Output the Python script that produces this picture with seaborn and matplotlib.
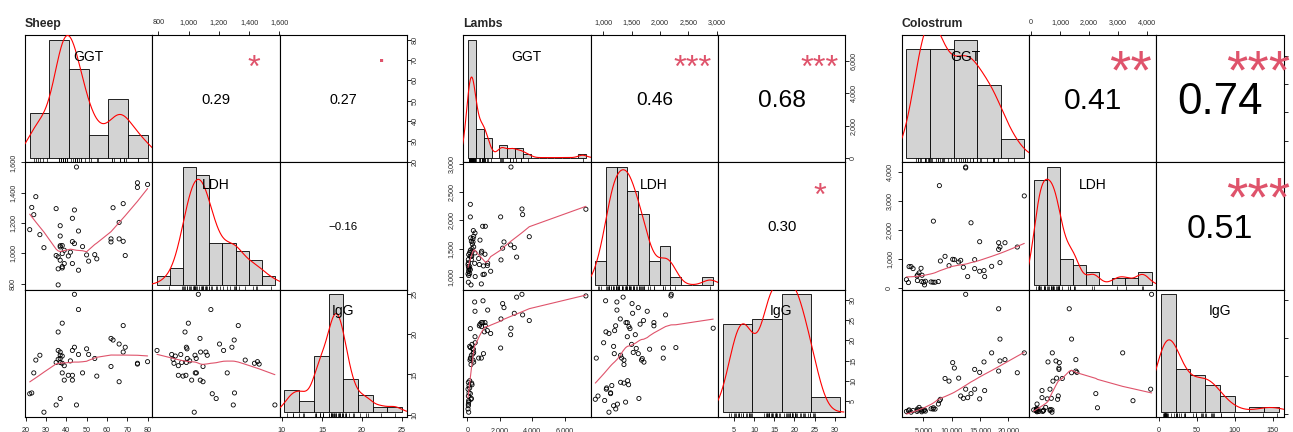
import numpy as np
import pandas as pd
import matplotlib
matplotlib.use("Agg")
import matplotlib.pyplot as plt
import matplotlib.transforms as mtransforms
from matplotlib.font_manager import FontProperties
from matplotlib.textpath import TextPath
from matplotlib.ticker import MultipleLocator, FuncFormatter
import seaborn as sns

variables = ["GGT", "LDH", "IgG"]

sheep_ggt = [45, 75, 75, 80, 25, 23, 24, 22, 27, 29, 35, 44, 43, 37, 46, 37, 43, 44, 38, 37,
             48, 39, 35, 36, 38, 37, 42, 41, 50, 54, 55, 51, 39, 38, 38, 36, 43, 46, 36, 63,
             68, 66, 62, 62, 66, 68, 69, 37]
sheep_ldh = [1570, 1466, 1435, 1455, 1374, 1303, 1255, 1156, 1123, 1037, 1295, 1286, 1231, 1182,
             1147, 1114, 1077, 1064, 1051, 1042, 1044, 1020, 985, 976, 998, 954, 1007, 982, 989,
             991, 963, 948, 932, 912, 903, 897, 932, 888, 791, 1301, 1328, 1204, 1095, 1075,
             1095, 1079, 985, 1050]
sheep_igg = [11.2, 16.3, 16.4, 16.6, 16.8, 12.7, 15.2, 12.6, 17.4, 10.3, 11.2, 18.4, 18.0, 12.0,
             23.1, 17.8, 14.3, 25.0, 15.2, 17.4, 15.2, 14.3, 16.5, 20.3, 21.4, 16.5, 16.7, 14.9,
             18.2, 17.0, 14.8, 17.5, 16.1, 17.3, 16.4, 16.9, 14.9, 17.5, 18.0, 19.3, 21.1, 18.8,
             16.0, 19.5, 14.1, 17.8, 18.4, 17.0]
sheep_r = [0.29, 0.27, -0.16]
sheep_sig = ["*", ".", ""]

lambs_ggt = [7287, 2682, 3357, 3398, 3807, 2047, 2252, 2170, 2661, 2886, 3030, 2068, 450, 1105,
             942, 962, 1249, 1228, 1433, 1085, 1044, 990, 880, 860, 860, 778, 737, 696, 480, 470,
             471, 389, 368, 348, 348, 389, 307, 287, 287, 225, 266, 246, 246, 225, 205, 184, 143,
             184, 184, 184, 143, 61, 143, 41, 102, 61, 85, 82, 61, 41, 82, 164, 61, 102]
lambs_ldh = [2195, 2941, 2200, 2100, 1710, 2060, 1618, 1508, 1565, 1518, 1350, 1300, 1240, 1894,
             1894, 1041, 1241, 1200, 1100, 1400, 1047, 1194, 1453, 1424, 876, 1650, 1218, 1324,
             1006, 1776, 1424, 1529, 1818, 1618, 1676, 1718, 1582, 1500, 1447, 1365, 1365, 1306,
             1629, 859, 1688, 1471, 1182, 2059, 2282, 1129, 1059, 1306, 1430, 1053, 1129, 906,
             1024, 1394, 1182, 1220, 1100, 1365, 1250, 1150]
lambs_igg = [31.0, 23.0, 31.4, 26.3, 24.9, 18.1, 28.1, 29.1, 21.4, 26.7, 30.7, 25.3, 29.5, 23.6,
             24.4, 29.8, 27.5, 22.4, 21.7, 24.4, 22.1, 16.7, 23.4, 24.4, 15.6, 24.0, 23.6, 15.6,
             19.4, 27.2, 20.9, 17.0, 17.8, 16.7, 15.1, 14.6, 18.0, 19.0, 9.0, 14.0, 9.4, 16.3,
             5.6, 5.4, 15.5, 22.9, 18.5, 15.6, 18.2, 6.8, 8.2, 9.6, 10.0, 7.9, 7.0, 6.2, 5.1,
             4.7, 3.8, 3.0, 2.2, 15.1, 4.2, 8.8]
lambs_r = [0.46, 0.68, 0.30]
lambs_sig = ["***", "***", "*"]

colostrum_ggt = [12471, 7824, 22826, 6765, 13413, 14942, 18296, 19414, 18531, 18296, 21590, 8824,
                 8000, 10177, 10471, 11236, 11589, 9530, 12060, 14060, 14060, 14942, 15707, 18531,
                 17060, 15824, 12824, 2470, 2823, 3177, 4588, 4235, 4000, 4765, 3882, 2000, 2353,
                 3941, 4706, 5059, 5353, 6353, 6706, 7059, 7647, 5200, 12471]
colostrum_ldh = [4171, 3527, 3171, 2298, 2241, 1586, 1551, 1551, 1402, 1321, 1402, 1080, 919, 977,
                 965, 885, 942, 758, 701, 965, 655, 563, 586, 862, 735, 379, 379, 724, 724, 655,
                 666, 506, 437, 425, 402, 276, 172, 241, 207, 184, 218, 195, 184, 184, 207, 92, 4140]
colostrum_igg = [157.8, 18.1, 80.9, 8.8, 27.4, 55.3, 57.0, 72.0, 99.0, 138.8, 54.8, 47.3, 19.9,
                 68.1, 61.0, 47.7, 24.3, 43.8, 21.2, 59.2, 33.2, 20.5, 69.0, 70.3, 80.9, 31.4, 22.1,
                 6.0, 3.0, 5.3, 6.6, 9.3, 5.7, 4.9, 4.0, 4.0, 4.9, 7.1, 3.5, 5.3, 4.4, 7.5, 7.1,
                 7.1, 13.7, 6.0, 33.2]
colostrum_r = [0.41, 0.74, 0.51]
colostrum_sig = ["**", "***", "***"]

panels = [
    dict(title="Sheep", left=25.0, data=[sheep_ggt, sheep_ldh, sheep_igg],
         r=sheep_r, sig=sheep_sig, bins=[10, 100, 2], steps=[10, 200, 5], cor_size=23.4,
         right_labels=True),
    dict(title="Lambs", left=463.3, data=[lambs_ggt, lambs_ldh, lambs_igg],
         r=lambs_r, sig=lambs_sig, bins=[500, 200, 10], steps=[2000, 500, 5], cor_size=23.4,
         right_labels=True),
    # the right-hand axis labels of this one fall outside the cropped picture
    dict(title="Colostrum", left=901.7, data=[colostrum_ggt, colostrum_ldh, colostrum_igg],
         r=colostrum_r, sig=colostrum_sig, bins=[5000, 500, 20], steps=[5000, 1000, 50], cor_size=39.5,
         right_labels=False),
]

W, H = 1293, 432
TOP = 35.0
CELL = 127.3
SMOOTH = "#DF536B"
FAMILY = ["Liberation Sans", "DejaVu Sans"]

sns.set_theme(style="white")
plt.rcParams["font.family"] = FAMILY


def pair_range(v):
    v = np.asarray(v, float)
    pad = 0.04 * (v.max() - v.min())
    return v.min() - pad, v.max() + pad


def hist_edges(v, width):
    lo = np.floor(min(v) / width + 1e-9) * width
    hi = np.ceil(max(v) / width - 1e-9) * width
    return np.arange(lo, hi + width / 2, width)


def right_closed_density(v, edges):
    # R's hist(): intervals (a, b], first one closed
    v = np.asarray(v, float)
    counts = np.histogram(-v, bins=-edges[::-1])[0][::-1]
    return counts / (len(v) * np.diff(edges))


def density_nrd0(v):
    v = np.asarray(v, float)
    q75, q25 = np.percentile(v, [75, 25])
    lo = min(v.std(ddof=1), (q75 - q25) / 1.34)
    bw = 0.9 * lo * len(v) ** -0.2
    grid = np.linspace(v.min() - 3 * bw, v.max() + 3 * bw, 512)
    z = (grid[:, None] - v[None, :]) / bw
    dens = np.exp(-0.5 * z ** 2).sum(axis=1) / (len(v) * bw * np.sqrt(2 * np.pi))
    return grid, dens


def lowess(x, y, f=2 / 3, iters=3):
    order = np.argsort(x, kind="mergesort")
    x = np.asarray(x, float)[order]
    y = np.asarray(y, float)[order]
    n = len(x)
    ns = max(2, min(n, int(f * n + 1e-7)))
    span = x[-1] - x[0]
    rw = np.ones(n)
    fit = y.copy()
    for it in range(iters + 1):
        for i in range(n):
            d = np.abs(x - x[i])
            h = np.sort(d)[ns - 1]
            w = np.zeros(n)
            if h > 0:
                inside = d <= 0.999 * h
                w[inside] = (1 - (d[inside] / h) ** 3) ** 3
                w[d <= 0.001 * h] = 1.0
            else:
                w[d == 0] = 1.0
            w *= rw
            if w.sum() <= 0:
                fit[i] = y[i]
                continue
            w = w / w.sum()
            xbar = np.sum(w * x)
            c = np.sum(w * (x - xbar) ** 2)
            if h > 0 and np.sqrt(c) > 0.001 * span:
                w = w * ((x[i] - xbar) / c * (x - xbar) + 1)
            fit[i] = np.sum(w * y)
        if it == iters:
            break
        res = np.abs(y - fit)
        cmad = 6 * np.median(res)
        if cmad < 1e-7 * np.mean(np.abs(y)):
            break
        rw = np.where(res < 0.999 * cmad, (1 - (res / cmad) ** 2) ** 2, 0.0)
        rw[res <= 0.001 * cmad] = 1.0
    return x, fit


def ink_text(ax, x, y, s, size, color="black"):
    # centre the inked glyphs on (x, y), as R's text() does
    fp = FontProperties(family=FAMILY, size=size)
    ext = TextPath((0, 0), s, prop=fp).get_extents()
    tr = mtransforms.offset_copy(ax.transAxes, fig=ax.figure,
                                 x=-(ext.x0 + ext.x1) / 2, y=-(ext.y0 + ext.y1) / 2, units="points")
    t = ax.text(x, y, s, transform=tr, ha="left", va="baseline", fontproperties=fp,
                color=color, zorder=10)
    t.set_clip_box(ax.bbox)
    return t


fmt = FuncFormatter(lambda v, _: f"{int(round(v)):,}")
tick_kw = dict(direction="out", length=3.2, width=0.6, labelsize=5.2,
               colors="black", labelcolor="#2a2a2a")


def add_axis(ax, side, step, labels=True):
    if side in ("top", "bottom"):
        ax.xaxis.set_major_locator(MultipleLocator(step))
        ax.xaxis.set_major_formatter(fmt)
        ax.tick_params(axis="x", **{side: True, "label" + side: labels},
                       pad=3.5 if side == "top" else 3.8, **tick_kw)
    else:
        ax.yaxis.set_major_locator(MultipleLocator(step))
        ax.yaxis.set_major_formatter(fmt)
        ax.tick_params(axis="y", **{side: True, "label" + side: labels},
                       pad=3.0 if side == "left" else 0.2, labelrotation=90, **tick_kw)
        for tk in ax.yaxis.get_major_ticks():
            (tk.label1 if side == "left" else tk.label2).set_va("center")


fig = plt.figure(figsize=(W / 100, H / 100), dpi=100)

for p in panels:
    data = p["data"]
    ranges = [pair_range(v) for v in data]
    fig.text(p["left"] / W, 1 - 26.7 / H, p["title"], fontsize=8.8, fontweight="bold",
             ha="left", va="baseline")
    k = 0
    for i in range(3):
        for j in range(3):
            left = p["left"] + j * CELL
            top = TOP + i * CELL
            ax = fig.add_axes([left / W, 1 - (top + CELL) / H, CELL / W, CELL / H])
            ax.set_xlim(ranges[j])
            ax.set_ylim(ranges[i])
            ax.set_facecolor("white")
            ax.grid(False)
            for s in ax.spines.values():
                s.set_color("black")
                s.set_linewidth(0.8)
            ax.tick_params(which="both", bottom=False, top=False, left=False, right=False,
                           labelbottom=False, labeltop=False, labelleft=False, labelright=False)
            ax.set_xlabel("")
            ax.set_ylabel("")

            if i == j:
                v = data[i]
                hax = ax.inset_axes([0, 0, 1, 1])
                hax.patch.set_alpha(0)
                edges = hist_edges(v, p["bins"][i])
                dens = right_closed_density(v, edges)
                bars = pd.DataFrame({"left": edges[:-1], "density": dens})
                sns.histplot(data=bars, x="left", weights="density", bins=edges.tolist(),
                             color="#D3D3D3", edgecolor="black", linewidth=0.6, alpha=1, ax=hax)
                gx, gy = density_nrd0(v)
                hax.plot(gx, gy, color="red", lw=0.8)
                sns.rugplot(x=np.asarray(v, float), ax=hax, height=0.03, color="black", linewidth=0.5)
                span = edges[-1] - edges[0]
                hax.set_xlim(edges[0] - 0.04 * span, edges[-1] + 0.04 * span)
                hax.set_ylim(-0.04 * dens.max(), 1.04 * dens.max())
                hax.set_axis_off()
                ink_text(hax, 0.5, 0.83, variables[i], 10)
            elif i > j:
                x, y = data[j], data[i]
                ax.scatter(x, y, s=9, facecolors="none", edgecolors="black", linewidths=0.6)
                sx, sy = lowess(x, y)
                ax.plot(sx, sy, color=SMOOTH, lw=0.8)
            else:
                r = p["r"][k]
                sig = p["sig"][k]
                k += 1
                txt = f"{r:.2f}".replace("-", "\u2212")
                ink_text(ax, 0.5, 0.5, txt, p["cor_size"] * (abs(r) + 0.3) / 1.3)
                if sig:
                    ink_text(ax, 0.8, 0.8, sig, p["cor_size"], color=SMOOTH)

            steps = p["steps"]
            if i == 0 and j == 1:
                add_axis(ax, "top", steps[j])
            if j == 2 and i in (0, 2):
                add_axis(ax, "right", steps[i], labels=p["right_labels"])
            if i == 2 and j in (0, 2):
                add_axis(ax, "bottom", steps[j])
            if j == 0 and i == 1:
                add_axis(ax, "left", steps[i])

fig.savefig("out.png", dpi=100)
